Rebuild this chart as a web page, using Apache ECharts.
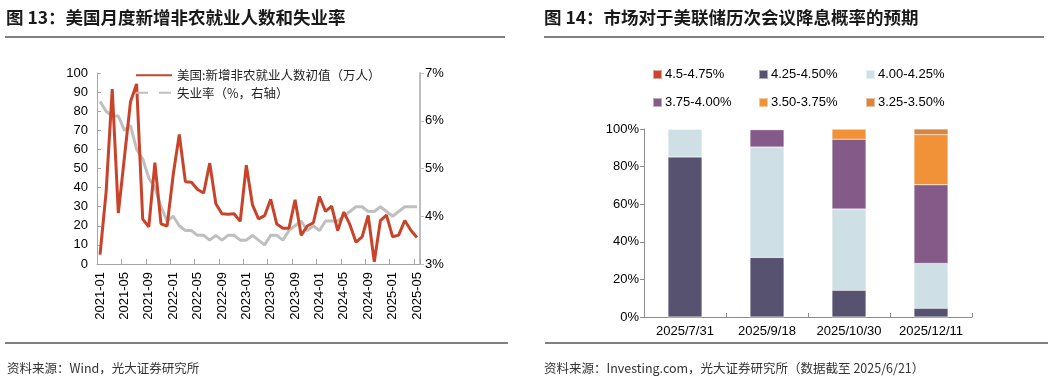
<!DOCTYPE html>
<html><head><meta charset="utf-8">
<script src="https://cdn.jsdelivr.net/npm/echarts@6/dist/echarts.min.js"></script>
<style>html,body{margin:0;padding:0;background:#fff}#c{width:1054px;height:383px}</style>
</head><body><div id="c"></div>
<script>
const months = ['2021-01','2021-02','2021-03','2021-04','2021-05','2021-06','2021-07','2021-08','2021-09','2021-10','2021-11','2021-12',
  '2022-01','2022-02','2022-03','2022-04','2022-05','2022-06','2022-07','2022-08','2022-09','2022-10','2022-11','2022-12',
  '2023-01','2023-02','2023-03','2023-04','2023-05','2023-06','2023-07','2023-08','2023-09','2023-10','2023-11','2023-12',
  '2024-01','2024-02','2024-03','2024-04','2024-05','2024-06','2024-07','2024-08','2024-09','2024-10','2024-11','2024-12',
  '2025-01','2025-02','2025-03','2025-04','2025-05'];
const payrolls = [4.9,37.9,91.6,26.6,55.9,85.0,94.3,23.5,19.4,53.1,21.0,19.9,
  46.7,67.8,43.1,42.8,39.0,37.2,52.8,31.5,26.3,26.1,26.3,22.3,
  51.7,31.1,23.6,25.3,33.9,20.9,18.7,18.7,33.6,15.0,19.9,21.6,
  35.3,27.5,30.3,17.5,27.2,20.6,11.4,14.2,25.4,1.2,22.7,25.6,
  14.3,15.1,22.8,17.7,13.9];
const unemployment = [6.4,6.2,6.1,6.1,5.8,5.9,5.4,5.2,4.8,4.6,4.2,3.9,
  4.0,3.8,3.7,3.7,3.6,3.6,3.5,3.6,3.5,3.6,3.6,3.5,
  3.5,3.6,3.5,3.4,3.6,3.6,3.5,3.7,3.8,3.9,3.7,3.8,
  3.7,3.9,3.9,3.9,4.0,4.1,4.2,4.2,4.1,4.1,4.2,4.1,
  4.0,4.1,4.2,4.2,4.2];
const payrollName = '美国:新增非农就业人数初值（万人）';
const unempName = '失业率（%，右轴）';

const meetings = ['2025/7/31','2025/9/18','2025/10/30','2025/12/11'];
const rateRanges = ['4.5-4.75%','4.25-4.50%','4.00-4.25%','3.75-4.00%','3.50-3.75%','3.25-3.50%'];
const p450_475 = [0,0,0,0];
const p425_450 = [85.1,31.7,14.2,4.6];
const p400_425 = [14.9,58.7,43.3,23.9];
const p375_400 = [0,9.2,37.1,41.8];
const p350_375 = [0,0.4,5.4,26.7];
const p325_350 = [0,0,0,3.0];
const rateColors = ['#c9462c','#57526f','#cfdfe6','#845a89','#f29238','#d9853f'];
const rateValues = [p450_475,p425_450,p400_425,p375_400,p350_375,p325_350];

const labelFont = {fontFamily:'Liberation Sans, Arial, sans-serif', fontSize:13, color:'#000'};
const axisGray = '#a6a6a6';

const legendPos = [[652,68],[758,68],[865,68],[652,96],[758,96],[865,96]];
const rateLegends = rateRanges.map((n,i)=>({
  data:[n], left:legendPos[i][0], top:legendPos[i][1], padding:0, icon:'rect', itemWidth:9, itemHeight:9,
  textStyle:Object.assign({}, labelFont, {padding:[0,0,0,-2]}), selectedMode:false
}));

const option = {
  animation:false,
  backgroundColor:'#fff',
  grid:[
    {left:97, top:73, width:323, height:191, outerBoundsMode:'none'},
    {left:644, top:129, width:328, height:188, outerBoundsMode:'none'}
  ],
  legend:[
    {orient:'vertical', left:135, top:69, padding:0, itemGap:5, itemWidth:36, itemHeight:14, selectedMode:false,
     itemStyle:{opacity:0},
     textStyle:{fontFamily:'"Noto Sans CJK SC", sans-serif', fontSize:12.5, color:'#222'},
     data:[{name:payrollName},{name:unempName, lineStyle:{type:[12,11]}}]}
  ].concat(rateLegends),
  xAxis:[
    {gridIndex:0, type:'category', data:months, boundaryGap:true,
     axisLine:{show:true, lineStyle:{color:axisGray}},
     axisTick:{show:true, inside:true, interval:3, length:5, lineStyle:{color:axisGray}},
     axisLabel:Object.assign({interval:3, rotate:90, margin:8}, labelFont),
     splitLine:{show:false}},
    {gridIndex:1, type:'category', data:meetings, boundaryGap:true,
     axisLine:{show:true, lineStyle:{color:'#8c8c8c'}},
     axisTick:{show:true, inside:true, length:4, lineStyle:{color:'#8c8c8c'}},
     axisLabel:Object.assign({interval:0, margin:8}, labelFont),
     splitLine:{show:false}}
  ],
  yAxis:[
    {gridIndex:0, type:'value', min:0, max:100, interval:10,
     axisLine:{show:true, lineStyle:{color:axisGray}},
     axisTick:{show:true, inside:true, length:4, lineStyle:{color:axisGray}},
     axisLabel:Object.assign({margin:9}, labelFont), splitLine:{show:false}},
    {gridIndex:0, type:'value', position:'right', min:3, max:7, interval:1,
     axisLine:{show:true, lineStyle:{color:'#bfbfbf', width:2}},
     axisTick:{show:true, inside:false, length:4, lineStyle:{color:'#bfbfbf'}},
     axisLabel:Object.assign({margin:5, formatter:'{value}%'}, labelFont), splitLine:{show:false}},
    {gridIndex:1, type:'value', min:0, max:100, interval:20,
     axisLine:{show:true, lineStyle:{color:'#8c8c8c'}},
     axisTick:{show:true, inside:false, length:4, lineStyle:{color:'#8c8c8c'}},
     axisLabel:Object.assign({margin:5, formatter:'{value}%'}, labelFont), splitLine:{show:false}}
  ],
  series:[
    {name:payrollName, type:'line', xAxisIndex:0, yAxisIndex:0, data:payrolls, symbol:'none', z:3,
     lineStyle:{color:'#c8432a', width:3}, itemStyle:{color:'#c8432a'}},
    {name:unempName, type:'line', xAxisIndex:0, yAxisIndex:1, data:unemployment, symbol:'none', z:2,
     lineStyle:{color:'#bfbfbf', width:3}, itemStyle:{color:'#bfbfbf'}}
  ].concat(rateRanges.map((n,i)=>({
    name:n, type:'bar', stack:'p', xAxisIndex:1, yAxisIndex:2, data:rateValues[i], barWidth:34,
    itemStyle:{color:rateColors[i], borderColor:'rgba(255,255,255,0.5)', borderWidth:0.5}
  }))),
  graphic:[
    {type:'text', style:{x:6, y:17, text:'图 13：美国月度新增非农就业人数和失业率', verticalAlign:'middle',
      font:'bold 17.5px "Noto Sans CJK SC", sans-serif', fill:'#1a1a1a'}},
    {type:'line', shape:{x1:5,y1:37,x2:505,y2:37}, style:{stroke:'#808080', lineWidth:2}},
    {type:'text', style:{x:544, y:17, text:'图 14：市场对于美联储历次会议降息概率的预期', verticalAlign:'middle',
      font:'bold 17.5px "Noto Sans CJK SC", sans-serif', fill:'#1a1a1a'}},
    {type:'line', shape:{x1:544,y1:37,x2:1044,y2:37}, style:{stroke:'#808080', lineWidth:2}},
    {type:'line', shape:{x1:5,y1:343,x2:508,y2:343}, style:{stroke:'#808080', lineWidth:2}},
    {type:'line', shape:{x1:545,y1:343,x2:1048,y2:343}, style:{stroke:'#808080', lineWidth:2}},
    {type:'text', style:{x:7, y:368, text:'资料来源：Wind，光大证券研究所', verticalAlign:'middle',
      font:'12.5px "Noto Sans CJK SC", sans-serif', fill:'#333'}},
    {type:'text', style:{x:544, y:368, text:'资料来源：Investing.com，光大证券研究所（数据截至 2025/6/21）', verticalAlign:'middle',
      font:'12.5px "Noto Sans CJK SC", sans-serif', fill:'#333'}}
  ]
};
const chart = echarts.init(document.getElementById('c'), null, {renderer:'canvas'});
chart.setOption(option);
</script></body></html>
